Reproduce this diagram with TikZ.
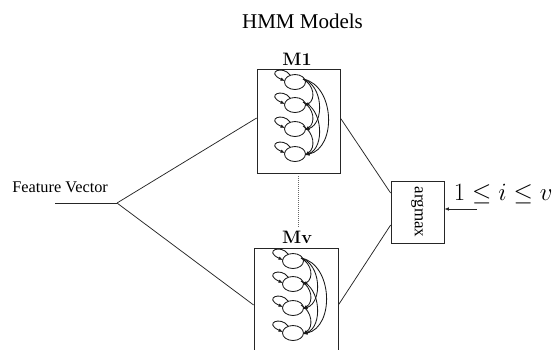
\documentclass[tikz,border=0pt]{standalone}
\usepackage{fontspec}
\newfontfamily\tnr{Liberation Serif}
\usetikzlibrary{arrows.meta,shapes.geometric}
\begin{document}
\begin{tikzpicture}[x=1pt,y=-1pt,line width=0.75pt,
  ln/.style={draw=black!85},
  hl/.style={draw=black!90,line width=0.85pt},
  tip/.style={-{Latex[length=4.5pt,width=3.6pt]}},
  st/.style={ellipse,draw=black!90,line width=0.85pt,minimum width=21pt,minimum height=15pt,inner sep=0pt},
  box/.style={draw=black!85,inner sep=0pt},
  mlabel/.style={anchor=base,font=\fontsize{18}{20}\selectfont\bfseries}]
\useasboundingbox (0,0) rectangle (554,349);
\clip (0,0) rectangle (554,349);

\newcommand\hmmstates[2]{%
 \begin{scope}[shift={#2}]
  \foreach \k/\yy in {1/0,2/23,3/47,4/72}{
    \node[st] (#1s\k) at (0,\yy) {};
    \draw[hl,tip] (-5,\yy-7) .. controls (-12,\yy-17) and (-30,\yy-10) .. (-10,\yy-1);
  }
  \foreach \a/\b/\bb in {0/23/11,0/47/20,0/72/32,23/47/11,23/72/20,47/72/11}{
    \draw[hl,tip] (8,\a-3) .. controls (8+\bb,\a+3) and (10+\bb,\b-6) .. (10,\b+1);
  }
 \end{scope}}

% title
\node[anchor=base] (title) at (302.5,28) {\tnr\fontsize{21}{24}\selectfont HMM Models};

% model boxes
\node[box,minimum width=83pt,minimum height=104pt] (m1) at (298.5,121) {};
\node[mlabel] (m1l) at (297,65) {M1};
\hmmstates{a}{(295,82)}

\node[box,minimum width=84pt,minimum height=114pt] (mv) at (296,305) {};
\node[mlabel] (mvl) at (297,243) {Mv};
\hmmstates{b}{(293,261)}

% dotted link
\coordinate (dtop) at (298,176);
\coordinate (dbot) at (298,228);
\draw[draw=black!60,dash pattern=on 1pt off 1pt] (dtop) -- (dbot);

% feature vector
\node[anchor=base west,inner sep=0pt] (fv) at (12,192) {\tnr\fontsize{16.3}{18}\selectfont Feature Vector};
\coordinate (fvs) at (55,203);
\coordinate (br) at (117,203);
\draw[ln] (fvs) -- (br);
\draw[ln] (br) -- ([yshift=3pt]m1.west);
\draw[ln] (br) -- (mv.west);

% argmax
\node[box,minimum width=53pt,minimum height=62pt] (am) at (417.5,212) {};
\node[rotate=-90] (amt) at (am.center) {\tnr\fontsize{17}{19}\selectfont argmax};
\draw[ln] (m1.east |- 0,118) -- ([yshift=19pt]am.west);
\draw[ln] ([yshift=-13pt]am.west) -- (mv.east);

% index input
\coordinate (ia) at (477,209);
\draw[ln,tip] (ia) -- (am.east |- ia);
\node[anchor=base east,inner sep=0pt] (idx) at (553,200) {\fontsize{23}{27}\selectfont $1 \le i \le v$};
\end{tikzpicture}
\end{document}
